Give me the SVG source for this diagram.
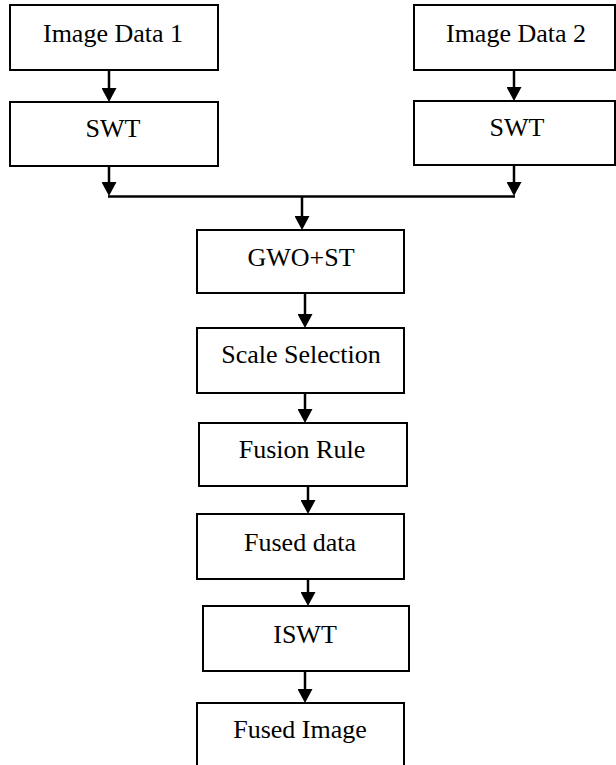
<svg xmlns="http://www.w3.org/2000/svg" width="616" height="765" viewBox="0 0 616 765">
<defs>
<style>
.box{fill:#fff;stroke:#000;stroke-width:2}
.lbl{font-family:"Liberation Serif","Times New Roman",serif;font-size:26px;fill:#000;text-anchor:middle}
.con{fill:none;stroke:#000;stroke-width:2.5}
</style>
<marker id="ah" viewBox="0 0 14 15" refX="8" refY="7.5" markerWidth="14" markerHeight="15" orient="auto" markerUnits="userSpaceOnUse">
<path d="M0,0 L14,7.5 L0,15 z" fill="#000"/>
</marker>
</defs>
<rect width="616" height="765" fill="#fff"/>
<g id="connectors">
<line class="con" x1="109" y1="70" x2="109" y2="96" marker-end="url(#ah)"/>
<line class="con" x1="514" y1="70" x2="514" y2="95" marker-end="url(#ah)"/>
<line class="con" x1="109" y1="166" x2="109" y2="190" marker-end="url(#ah)"/>
<line class="con" x1="514" y1="165" x2="514" y2="190" marker-end="url(#ah)"/>
<line class="con" x1="108" y1="196.5" x2="515" y2="196.5"/>
<line class="con" x1="302" y1="196" x2="302" y2="224" marker-end="url(#ah)"/>
<line class="con" x1="305" y1="293" x2="305" y2="322" marker-end="url(#ah)"/>
<line class="con" x1="305" y1="393" x2="305" y2="417" marker-end="url(#ah)"/>
<line class="con" x1="308" y1="486" x2="308" y2="508" marker-end="url(#ah)"/>
<line class="con" x1="308" y1="579" x2="308" y2="600" marker-end="url(#ah)"/>
<line class="con" x1="305" y1="671" x2="305" y2="697" marker-end="url(#ah)"/>
</g>
<g id="image-data-1"><rect class="box" x="10" y="5" width="208" height="65"/><text class="lbl" x="113" y="42">Image Data 1</text></g>
<g id="image-data-2"><rect class="box" x="414" y="5" width="201" height="65"/><text class="lbl" x="516" y="42">Image Data 2</text></g>
<g id="swt-1"><rect class="box" x="10" y="102" width="208" height="64"/><text class="lbl" x="113" y="137">SWT</text></g>
<g id="swt-2"><rect class="box" x="414" y="101" width="201" height="64"/><text class="lbl" x="517" y="136">SWT</text></g>
<g id="gwo-st"><rect class="box" x="197" y="230" width="207" height="63"/><text class="lbl" x="301" y="266">GWO+ST</text></g>
<g id="scale-selection"><rect class="box" x="197" y="328" width="207" height="65"/><text class="lbl" x="301" y="363">Scale Selection</text></g>
<g id="fusion-rule"><rect class="box" x="199" y="423" width="208" height="63"/><text class="lbl" x="302" y="458">Fusion Rule</text></g>
<g id="fused-data"><rect class="box" x="197" y="514" width="207" height="65"/><text class="lbl" x="300" y="551">Fused data</text></g>
<g id="iswt"><rect class="box" x="203" y="606" width="206" height="65"/><text class="lbl" x="305" y="643">ISWT</text></g>
<g id="fused-image"><rect class="box" x="197" y="703" width="207" height="70"/><text class="lbl" x="300" y="738">Fused Image</text></g>
</svg>
